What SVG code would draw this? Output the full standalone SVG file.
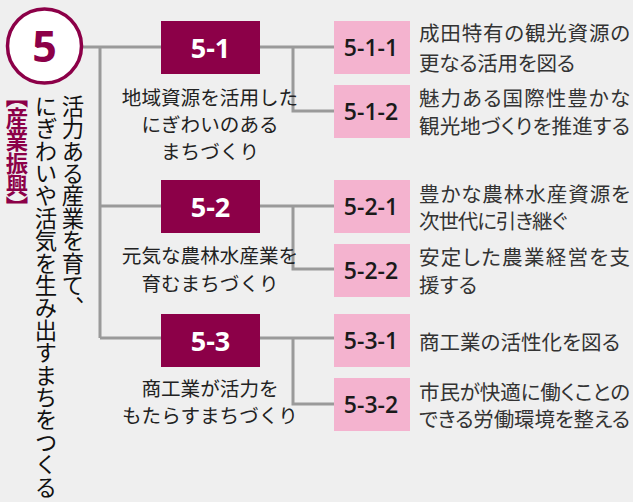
<svg xmlns="http://www.w3.org/2000/svg" width="633" height="502" viewBox="0 0 633 502">
<style>
.ln{stroke:#9a9a9a;stroke-width:3;fill:none}
.dk{fill:#8c0048}
.pk{fill:#f4b3cf}
.dkt{font-family:"Open Sans","Noto Sans",sans-serif;font-weight:700;font-size:27px;fill:#fff;text-anchor:middle}
.pkt{font-family:"Open Sans","Noto Sans",sans-serif;font-weight:600;font-size:23px;fill:#1a1a1a;text-anchor:middle}
.jl{font-family:"Noto Sans CJK JP",sans-serif;font-size:19.6px;fill:#222;text-anchor:middle}
.jr{font-family:"Noto Sans CJK JP",sans-serif;font-size:20.5px;font-feature-settings:"palt";fill:#333}
.vt{font-family:"Noto Sans CJK JP",sans-serif;font-size:22.4px;fill:#111;writing-mode:vertical-rl}
</style>
<rect width="633" height="502" fill="#efefef"/>
<g id="connectors">
<path class="ln" d="M82 47H161M100 47V338M100 206H161M100 338H161"/>
<path class="ln" d="M260 47H334M293 47V111H334"/>
<path class="ln" d="M260 206H334M293 206V269H334"/>
<path class="ln" d="M260 338H334M293 338V404H334"/>
</g>
<g id="goal5">
<circle cx="44.5" cy="46" r="37" fill="#fff" stroke="#8c0048" stroke-width="3.5"/>
<text x="44.5" y="62" font-family="'Open Sans','Noto Sans',sans-serif" font-weight="700" font-size="43" fill="#8c0048" text-anchor="middle">5</text>
</g>
<g id="title">
<text class="vt" x="73" y="95">活力ある産業を育て、</text>
<text class="vt" x="46" y="95">にぎわいや活気を生み出すまちをつくる</text>
<text class="vt" x="17" y="96" style="fill:#8c0048;font-weight:700;font-feature-settings:'vpal'">【産業振興】</text>
</g>
<g id="n5-1">
<rect class="dk" x="161" y="21" width="99" height="53"/>
<text class="dkt" x="210.5" y="57.5">5-1</text>
<text class="jl" x="210" y="104.5">地域資源を活用した</text>
<text class="jl" x="210" y="131.5">にぎわいのある</text>
<text class="jl" x="210" y="159">まちづくり</text>
</g>
<g id="n5-1-1">
<rect class="pk" x="334" y="21" width="76" height="53"/>
<text class="pkt" x="371" y="55.7">5-1-1</text>
<text class="jr" x="419" y="41" textLength="211" lengthAdjust="spacing">成田特有の観光資源の</text>
<text class="jr" x="419" y="71" textLength="156" lengthAdjust="spacing">更なる活用を図る</text>
</g>
<g id="n5-1-2">
<rect class="pk" x="334" y="85" width="76" height="53"/>
<text class="pkt" x="371" y="119.7">5-1-2</text>
<text class="jr" x="419" y="105.5" textLength="211" lengthAdjust="spacing">魅力ある国際性豊かな</text>
<text class="jr" x="419" y="133.5" textLength="211" lengthAdjust="spacing">観光地づくりを推進する</text>
</g>
<g id="n5-2">
<rect class="dk" x="161" y="180" width="99" height="53"/>
<text class="dkt" x="210.5" y="216.5">5-2</text>
<text class="jl" x="210" y="262.5">元気な農林水産業を</text>
<text class="jl" x="210" y="290.5">育むまちづくり</text>
</g>
<g id="n5-2-1">
<rect class="pk" x="334" y="180" width="76" height="53"/>
<text class="pkt" x="371" y="214.7">5-2-1</text>
<text class="jr" x="419" y="201.5" textLength="211" lengthAdjust="spacing">豊かな農林水産資源を</text>
<text class="jr" x="419" y="229" textLength="148" lengthAdjust="spacing">次世代に引き継ぐ</text>
</g>
<g id="n5-2-2">
<rect class="pk" x="334" y="244" width="76" height="53"/>
<text class="pkt" x="371" y="278.7">5-2-2</text>
<text class="jr" x="419" y="264.5" textLength="211" lengthAdjust="spacing">安定した農業経営を支</text>
<text class="jr" x="419" y="293" textLength="58" lengthAdjust="spacing">援する</text>
</g>
<g id="n5-3">
<rect class="dk" x="161" y="314" width="99" height="53"/>
<text class="dkt" x="210.5" y="350.5">5-3</text>
<text class="jl" x="210" y="395.5">商工業が活力を</text>
<text class="jl" x="210" y="422.5">もたらすまちづくり</text>
</g>
<g id="n5-3-1">
<rect class="pk" x="334" y="314" width="76" height="53"/>
<text class="pkt" x="371" y="348.7">5-3-1</text>
<text class="jr" x="419" y="349.5" textLength="201" lengthAdjust="spacing">商工業の活性化を図る</text>
</g>
<g id="n5-3-2">
<rect class="pk" x="334" y="378" width="76" height="53"/>
<text class="pkt" x="371" y="412.7">5-3-2</text>
<text class="jr" x="419" y="399.5" textLength="211" lengthAdjust="spacing">市民が快適に働くことの</text>
<text class="jr" x="419" y="427" textLength="211" lengthAdjust="spacing">できる労働環境を整える</text>
</g>
</svg>
